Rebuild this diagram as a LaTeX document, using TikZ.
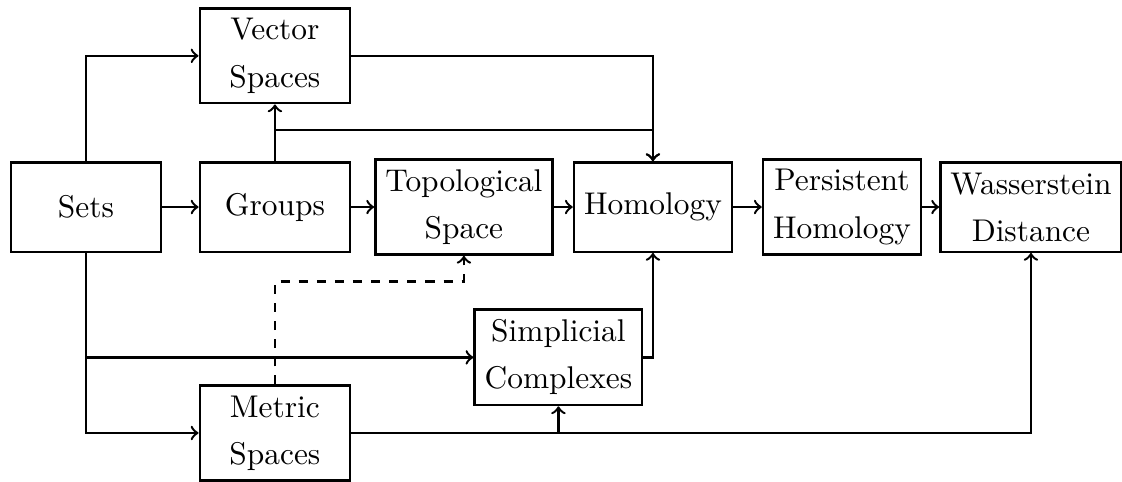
\documentclass[tikz,border=0pt]{standalone}
\usepackage{tikz}
\usetikzlibrary{positioning, calc}

\begin{document}
\begin{tikzpicture}[
    box/.style={rectangle, draw=black, thick, minimum width=1.75cm, minimum height=1.04cm, align=center, font=\fontsize{10.4}{15.6}\selectfont},
    arrow/.style={->, thick},
    node distance=2.2cm, on grid,
]
\useasboundingbox (-1.0,-3.20) rectangle (12.06,2.41);
% main row
\node[box] (sets) at (0,0) {Sets};
\node[box, right=of sets] (groups) {Groups};
\node[box, right=of groups] (top) {Topological\\Space};
\node[box, right=of top] (hom) {Homology};
\node[box, right=of hom] (pers) {Persistent\\Homology};
\node[box, right=of pers] (wass) {Wasserstein\\Distance};
% above and below
\node[box, above=1.76cm of groups] (vec) {Vector\\Spaces};
\node[box] (simp) at ($(top)!0.5!(hom)+(0,-1.75)$) {Simplicial\\Complexes};
\node[box, below=2.63cm of groups] (met) {Metric\\Spaces};

\draw[arrow] (sets) -- (groups);
\draw[arrow] (groups) -- (top);
\draw[arrow] (top) -- (hom);
\draw[arrow] (hom) -- (pers);
\draw[arrow] (pers) -- (wass);

\draw[arrow] (sets.north) |- (vec);
\draw[arrow] (groups) -- (vec);
\draw[arrow] (groups.north) -- ++(0,0.36) -| (hom.north);
\draw[arrow] (vec) -| (hom.north);

\draw[arrow] (sets.south) |- (simp);
\draw[arrow] (sets.south) |- (met);
\draw[arrow] (simp) -| (hom.south);
\draw[arrow] (met) -| (simp.south);
\draw[arrow] (met) -| (wass.south);
\draw[arrow, dashed] (met.north) -- ++(0,1.2) -| (top.south);
\end{tikzpicture}
\end{document}
